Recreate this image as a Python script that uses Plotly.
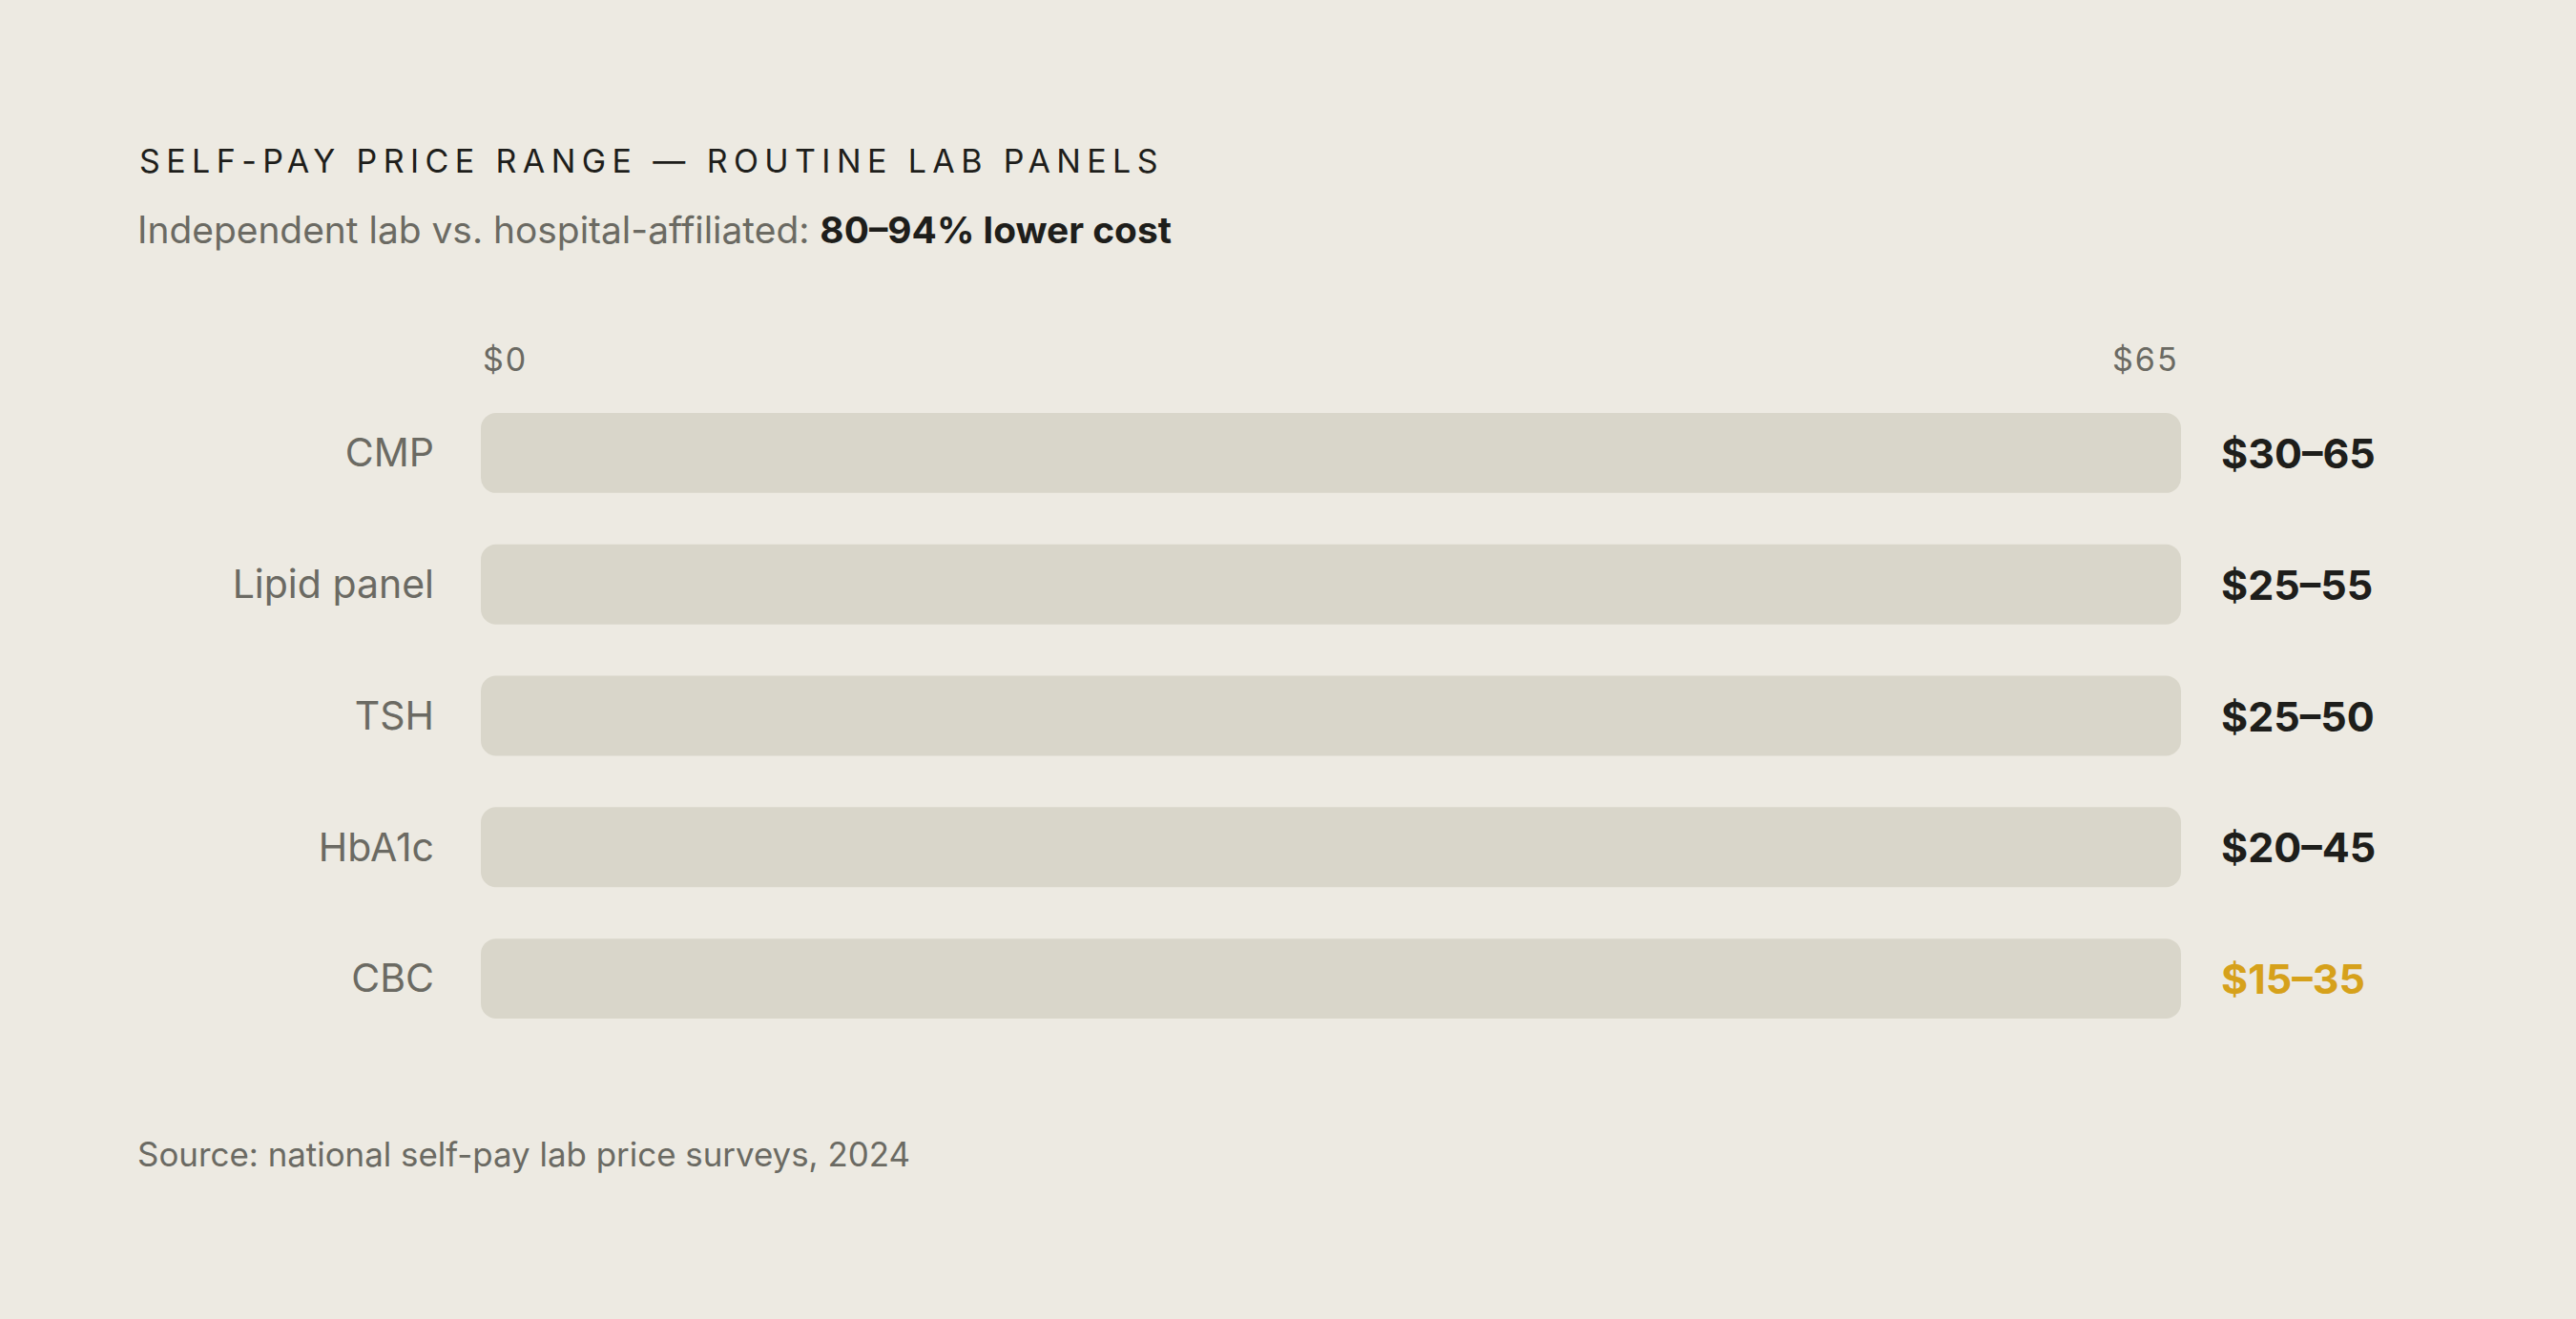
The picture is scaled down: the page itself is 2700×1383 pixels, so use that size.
import plotly.graph_objects as go

# ---- data ----
categories = ["CMP", "Lipid panel", "TSH", "HbA1c", "CBC"]
price_low = [30, 25, 25, 20, 15]
price_high = [65, 55, 50, 45, 35]
axis_min = 0
axis_max = 65
axis_tick_labels = ["$0", "$65"]
highlight_category = "CBC"

title_text = "SELF-PAY PRICE RANGE — ROUTINE LAB PANELS"
subtitle_plain = "Independent lab vs. hospital-affiliated: "
subtitle_bold = "80–94% lower cost"
source_text = "Source: national self-pay lab price surveys, 2024"

# ---- style ----
W, H = 2700, 1383
BG = "#EDEAE2"
TRACK = "#D9D6CA"
GRAY = "#6B6A63"
DARK = "#1E1E1B"
GOLD = "#D6A11B"
FONT = "Inter, 'DejaVu Sans', sans-serif"

L, R = 504, 2286          # plot area left/right pixel
T, B = 406, 1095          # plot area top/bottom pixel


def px_x(px):
    return (px - L) / (R - L)


def px_y(py):
    return (B - py) / (B - T)


fig = go.Figure()
fig.add_trace(go.Bar(
    y=categories,
    x=[axis_max - axis_min] * len(categories),
    base=[axis_min] * len(categories),
    orientation="h",
    marker=dict(color=TRACK, cornerradius=16, line=dict(width=0)),
    hoverinfo="skip",
    showlegend=False,
))

annotations = []
# value labels
for cat, lo, hi in zip(categories, price_low, price_high):
    annotations.append(dict(
        x=axis_max, y=cat, xref="x", yref="y",
        text=f"<b>${lo}–{hi}</b>", showarrow=False,
        xanchor="left", yanchor="middle", xshift=40,
        font=dict(family=FONT, size=43, color=GOLD if cat == highlight_category else DARK),
    ))

# axis end labels
annotations.append(dict(
    x=axis_min, y=px_y(377), xref="x", yref="paper",
    text=f'<span style="letter-spacing:2px">{axis_tick_labels[0]}</span>',
    showarrow=False, xanchor="left", yanchor="middle",
    font=dict(family=FONT, size=34, color=GRAY),
))
annotations.append(dict(
    x=axis_max, y=px_y(377), xref="x", yref="paper",
    text=f'<span style="letter-spacing:2px">{axis_tick_labels[1]}</span>',
    showarrow=False, xanchor="right", yanchor="middle",
    font=dict(family=FONT, size=34, color=GRAY),
))

# title
annotations.append(dict(
    x=px_x(144), y=px_y(168), xref="paper", yref="paper",
    text=f'<span style="letter-spacing:6.4px">{title_text}</span>',
    showarrow=False, xanchor="left", yanchor="middle",
    font=dict(family=FONT, size=34, color=DARK),
))
# subtitle
annotations.append(dict(
    x=px_x(142), y=px_y(241), xref="paper", yref="paper",
    text=f'{subtitle_plain}<b><span style="color:{DARK}">{subtitle_bold}</span></b>',
    showarrow=False, xanchor="left", yanchor="middle",
    font=dict(family=FONT, size=38.9, color=GRAY),
))
# source
annotations.append(dict(
    x=px_x(142), y=px_y(1210), xref="paper", yref="paper",
    text=source_text,
    showarrow=False, xanchor="left", yanchor="middle",
    font=dict(family=FONT, size=34.9, color=GRAY),
))

fig.update_layout(
    width=W, height=H, autosize=False,
    paper_bgcolor=BG, plot_bgcolor=BG,
    margin=dict(l=L, r=W - R, t=T, b=H - B, pad=0),
    bargap=1 - 84 / 138,
    showlegend=False,
    annotations=annotations,
    xaxis=dict(range=[axis_min, axis_max], showgrid=False, zeroline=False,
               showticklabels=False, showline=False, fixedrange=True),
    yaxis=dict(range=[len(categories) - 0.5, -0.5], showgrid=False, zeroline=False,
               showline=False, ticks="", ticklabelstandoff=48,
               tickfont=dict(family=FONT, size=41, color=GRAY), fixedrange=True),
)

fig.write_html(
    "out.html",
    config={"displayModeBar": False},
    post_script=(
        "document.documentElement.style.margin='0';"
        "document.body.style.margin='0';"
        "document.body.style.overflow='hidden';"
        f"document.body.style.background='{BG}';"
    ),
)
